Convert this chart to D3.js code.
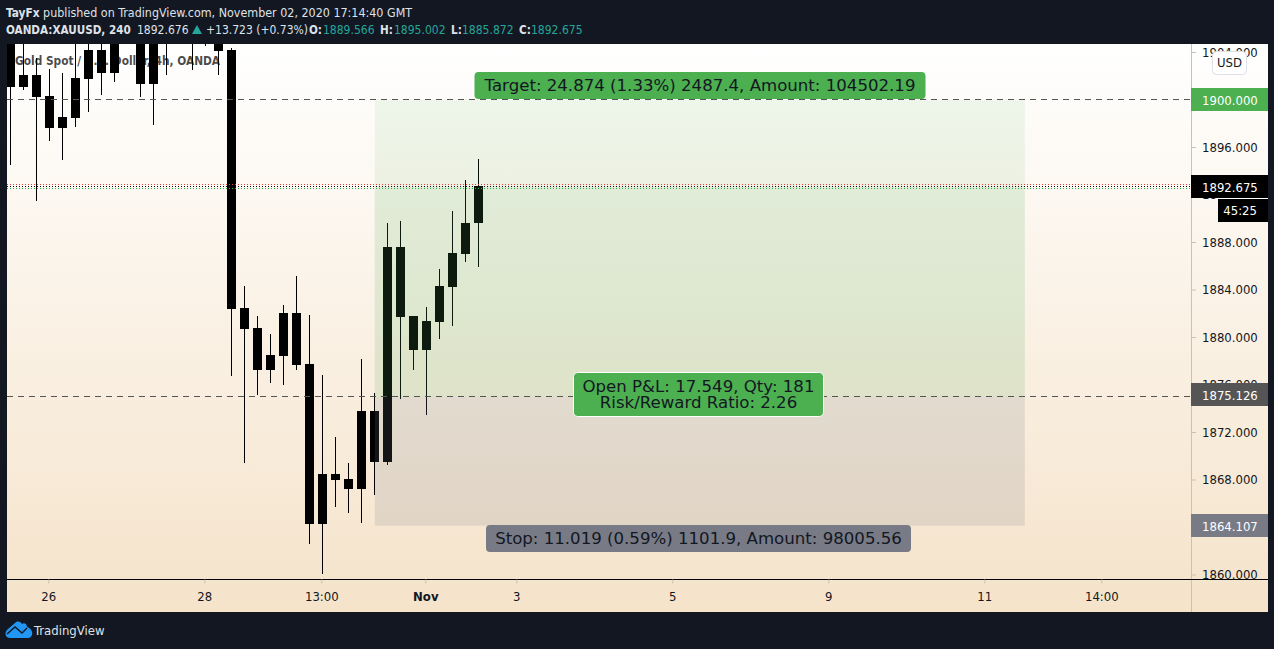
<!DOCTYPE html>
<html>
<head>
<meta charset="utf-8">
<script src="https://cdn.jsdelivr.net/npm/d3@7.9.0/dist/d3.min.js"></script>
<style>
  html, body { margin: 0; padding: 0; background: #131722; overflow: hidden; }
  svg { display: block; font-family: "DejaVu Sans Condensed", "DejaVu Sans", sans-serif; font-stretch: condensed; }
</style>
</head>
<body>
<svg id="chart" width="1274" height="649"></svg>
<script>
// Candle values. Bars above the pane top are estimates.
const opens = [1906, 1902.06, 1902.06, 1900.29, 1898.53, 1901.81, 1904.17, 1904.17, 1906, 1910, 1906, 1906, 1908, 1909, 1908, 1908, 1906, 1904.17, 1882.44, 1880.76, 1878.48, 1878.40, 1882.02, 1877.73, 1868.46, 1868.46, 1868.04, 1867.20, 1873.77, 1869.47, 1887.58, 1881.77, 1878.91, 1881.26, 1884.21, 1886.99, 1889.566];
const closes = [1901.05, 1901.05, 1900.21, 1897.60, 1897.60, 1898.44, 1901.73, 1902.23, 1902.23, 1908, 1901.31, 1901.31, 1906, 1907, 1906, 1906, 1904.08, 1882.36, 1880.67, 1877.22, 1877.22, 1882.02, 1877.64, 1864.25, 1864.25, 1867.96, 1867.20, 1873.77, 1869.47, 1887.58, 1881.68, 1878.91, 1881.35, 1884.30, 1887.07, 1889.60, 1892.675];
const highs = [1908, 1907, 1903.49, 1902.57, 1902.23, 1907, 1907, 1908, 1908, 1911, 1908, 1908, 1909, 1910, 1909, 1909, 1908, 1904.34, 1884.30, 1881.77, 1880.25, 1882.70, 1885.14, 1881.85, 1876.80, 1871.58, 1869.39, 1878.15, 1875.28, 1889.60, 1889.77, 1881.77, 1882.53, 1885.73, 1890.61, 1893.22, 1895.002];
const lows = [1894.48, 1900.80, 1891.45, 1896.51, 1894.91, 1897.68, 1898.95, 1900.38, 1901.47, 1906, 1900.21, 1897.85, 1902.06, 1906, 1902.48, 1904.51, 1902.06, 1876.72, 1869.39, 1875.12, 1876.13, 1875.96, 1877.22, 1862.57, 1860.04, 1865.68, 1865.18, 1864.34, 1866.70, 1869.22, 1874.78, 1877.22, 1873.43, 1879.83, 1880.93, 1886.32, 1885.872];

const priceTicks = [1860, 1864, 1868, 1872, 1876, 1880, 1884, 1888, 1892, 1896, 1900, 1904];
const timeTickBars = [3, 15, 24, 32, 39, 51, 63, 75, 84];
const timeTickLabels = ['26', '28', '13:00', 'Nov', '3', '5', '9', '11', '14:00'];

// Long position tool
const targetPrice = 1900;
const entryPrice = 1875.126;
const entryLinePrice = 1874.97; // line sits 2px under its tag in the picture
const stopPrice = 1864.107;
const lastPrice = 1892.675;
const toolStartBar = 28;
const toolEndBar = 78;

const width = 1274, height = 649;
const paneLeft = 7, paneRight = 1191, frameRight = 1268, paneTop = 44, paneBottom = 579, frameBottom = 612;

const x = d3.scaleLinear().domain([0, 90]).range([10.3, 1180.3]);
const y = d3.scaleLinear().domain([1860, 1900]).range([574.5, 99.5]);

const svg = d3.select('#chart');
const defs = svg.append('defs');

const grad = defs.append('linearGradient').attr('id', 'bg')
  .attr('x1', 0).attr('y1', 0).attr('x2', 0).attr('y2', 1);
grad.append('stop').attr('offset', 0).attr('stop-color', '#ffffff');
grad.append('stop').attr('offset', 1).attr('stop-color', '#f5e3ca');

defs.append('clipPath').attr('id', 'pane').append('rect')
  .attr('x', paneLeft).attr('y', paneTop)
  .attr('width', paneRight - paneLeft).attr('height', paneBottom - paneTop);

// Frame background
svg.append('rect').attr('x', paneLeft).attr('y', paneTop)
  .attr('width', frameRight - paneLeft).attr('height', frameBottom - paneTop)
  .attr('fill', 'url(#bg)');

// Header
const header = svg.append('g').attr('fill', '#dfe2e8');
header.append('text').attr('x', 6).attr('y', 17).attr('font-size', 12.4)
  .html('<tspan font-weight="bold" font-size="11.8">TayFx</tspan> published on TradingView.com, November 02, 2020 17:14:40 GMT');

const ohlcLine = [
  { t: 'OANDA:XAUUSD, 240', px: 6, bold: true },
  { t: '1892.676', px: 137 },
  { t: '+13.723 (+0.73%)', px: 206 },
  { t: 'O:', px: 309, bold: true },
  { t: '1889.566', px: 323, teal: true },
  { t: 'H:', px: 380, bold: true },
  { t: '1895.002', px: 394, teal: true },
  { t: 'L:', px: 451, bold: true },
  { t: '1885.872', px: 462, teal: true },
  { t: 'C:', px: 519, bold: true },
  { t: '1892.675', px: 531, teal: true },
];
header.selectAll('text.ohlc').data(ohlcLine).enter().append('text')
  .attr('class', 'ohlc')
  .attr('x', d => d.px).attr('y', 34)
  .attr('font-size', d => d.bold ? 11.6 : 12)
  .attr('font-weight', d => d.bold ? 'bold' : 'normal')
  .attr('fill', d => d.teal ? '#26a69a' : '#dfe2e8')
  .text(d => d.t);
svg.append('path').attr('d', 'M192,34 L197,25 L202,34 Z').attr('fill', '#26a69a');

// Pane content
const pane = svg.append('g').attr('clip-path', 'url(#pane)');

pane.append('text').attr('x', 15).attr('y', 65)
  .attr('font-size', 11.8).attr('font-weight', 'bold').attr('fill', '#2a2a2a')
  .attr('fill-opacity', 0.85)
  .text('Gold Spot / U.S. Dollar, 4h, OANDA');

const bars = d3.range(opens.length);
const candles = pane.append('g').attr('shape-rendering', 'crispEdges');
candles.selectAll('rect.wick').data(bars).enter().append('rect')
  .attr('class', 'wick')
  .attr('x', i => Math.round(x(i)))
  .attr('y', i => y(highs[i]))
  .attr('width', 1)
  .attr('height', i => y(lows[i]) - y(highs[i]))
  .attr('fill', '#000');
candles.selectAll('rect.body').data(bars).enter().append('rect')
  .attr('class', 'body')
  .attr('x', i => Math.round(x(i)) - 4)
  .attr('y', i => y(Math.max(opens[i], closes[i])))
  .attr('width', 9)
  .attr('height', i => Math.abs(y(opens[i]) - y(closes[i])))
  .attr('fill', '#000');

// Position zones sit over the candles
const zones = [
  { from: targetPrice, to: lastPrice, fill: 'rgba(76,175,80,0.09)' },
  { from: lastPrice, to: entryLinePrice, fill: 'rgba(76,175,80,0.155)' },
  { from: entryLinePrice, to: stopPrice, fill: 'rgba(120,123,134,0.17)' },
];
pane.selectAll('rect.zone').data(zones).enter().append('rect')
  .attr('class', 'zone')
  .attr('x', x(toolStartBar) + 0.5)
  .attr('width', x(toolEndBar) - x(toolStartBar))
  .attr('y', d => y(d.from))
  .attr('height', d => y(d.to) - y(d.from))
  .attr('fill', d => d.fill);

// Dashed target / entry lines
pane.selectAll('line.level').data([targetPrice, entryLinePrice]).enter().append('line')
  .attr('class', 'level')
  .attr('x1', paneLeft).attr('x2', paneRight)
  .attr('y1', d => Math.floor(y(d)) + 0.5).attr('y2', d => Math.floor(y(d)) + 0.5)
  .attr('stroke', '#555').attr('stroke-dasharray', '6,5');

// Dotted last price lines
pane.selectAll('line.last').data([{ dy: -2, c: '#ef3b3b' }, { dy: 0, c: '#111' }, { dy: 2, c: '#2fb344' }]).enter().append('line')
  .attr('class', 'last')
  .attr('x1', paneLeft).attr('x2', paneRight)
  .attr('y1', d => Math.round(y(lastPrice)) + 0.5 + d.dy)
  .attr('y2', d => Math.round(y(lastPrice)) + 0.5 + d.dy)
  .attr('stroke', d => d.c).attr('stroke-dasharray', '1,2');

// Tool labels
function toolLabel(cx, top, w, h, fill, lines, stroke) {
  const g = svg.append('g');
  g.append('rect').attr('x', cx - w / 2).attr('y', top).attr('width', w).attr('height', h)
    .attr('rx', 4).attr('fill', fill)
    .attr('stroke', stroke || 'none');
  lines.forEach(l => {
    g.append('text').attr('x', cx).attr('y', l.y).attr('text-anchor', 'middle')
      .attr('font-family', '"DejaVu Sans", sans-serif').style('font-stretch', 'normal')
      .attr('font-size', 16.6).attr('fill', '#131722').text(l.t);
  });
}
toolLabel(700, 72, 451, 27, '#4caf50', [{ t: 'Target: 24.874 (1.33%) 2487.4, Amount: 104502.19', y: 91 }]);
toolLabel(698.5, 372.5, 250, 44, '#4caf50', [
  { t: 'Open P&L: 17.549, Qty: 181', y: 392 },
  { t: 'Risk/Reward Ratio: 2.26', y: 408 },
], '#ffffff');
toolLabel(698.5, 525, 425, 27, '#787b86', [{ t: 'Stop: 11.019 (0.59%) 1101.9, Amount: 98005.56', y: 544 }]);

// Price axis
const priceAxis = d3.axisRight(y).tickValues(priceTicks).tickFormat(d3.format('.3f')).tickSize(5).tickPadding(6);
const gPrice = svg.append('g').attr('transform', `translate(${paneRight},0)`).call(priceAxis);
gPrice.attr('font-family', null);
gPrice.select('.domain').remove();
gPrice.selectAll('line').attr('stroke', '#c9c1b3');
gPrice.selectAll('text').attr('font-size', 13).attr('fill', '#131722');

svg.append('line').attr('x1', paneRight + 0.5).attr('x2', paneRight + 0.5)
  .attr('y1', paneTop).attr('y2', frameBottom).attr('stroke', '#c9c1b3');
svg.append('line').attr('x1', paneLeft).attr('x2', frameRight)
  .attr('y1', paneBottom + 0.5).attr('y2', paneBottom + 0.5).attr('stroke', '#000');

// Time axis
const timeAxis = d3.axisBottom(x).tickValues(timeTickBars)
  .tickFormat((d, i) => timeTickLabels[i]).tickSize(4).tickPadding(8);
const gTime = svg.append('g').attr('transform', `translate(-1,${paneBottom + 0.5})`).call(timeAxis);
gTime.attr('font-family', null);
gTime.select('.domain').remove();
gTime.selectAll('line').attr('stroke', '#c9c1b3');
gTime.selectAll('text').attr('font-size', 13)
  .attr('fill', '#131722').attr('font-weight', (d, i) => timeTickLabels[i] === 'Nov' ? 'bold' : 'normal');

// Price tags
function priceTag(price, top, fill, color) {
  svg.append('rect').attr('x', paneRight).attr('y', top)
    .attr('width', frameRight - paneRight).attr('height', 23).attr('fill', fill);
  svg.append('text').attr('x', paneRight + 11).attr('y', top + 16.5)
    .attr('font-size', 13).attr('fill', color).text(d3.format('.3f')(price));
}
priceTag(targetPrice, 88, '#4caf50', '#ffffff');
priceTag(entryPrice, 383, '#555555', '#ffffff');
priceTag(stopPrice, 514, '#787b86', '#ffffff');
priceTag(lastPrice, 175, '#000000', '#ffffff');

// Countdown under the last price
svg.append('rect').attr('x', 1218).attr('y', 198).attr('width', frameRight - 1218).attr('height', 24).attr('fill', '#000');
svg.append('line').attr('x1', 1218).attr('x2', frameRight).attr('y1', 198.5).attr('y2', 198.5).attr('stroke', '#fff');
svg.append('text').attr('x', 1257).attr('y', 215).attr('text-anchor', 'end')
  .attr('font-size', 13).attr('fill', '#fff').text('45:25');

// USD button
svg.append('rect').attr('x', 1212.5).attr('y', 51.5).attr('width', 34).attr('height', 23).attr('rx', 4)
  .attr('fill', '#fff').attr('stroke', '#dfe1e6');
svg.append('text').attr('x', 1229.5).attr('y', 66.5).attr('text-anchor', 'middle')
  .attr('font-size', 13).attr('fill', '#131722').text('USD');

// TradingView logo
svg.append('path')
  .attr('d', 'M10,638 C5,638 4,632 8,629 L15,623 C17,621 20,621 22,624 C24,622 27,624 27,627 C31,628 33,632 32,635 C31,637 30,638 28,638 Z')
  .attr('fill', '#2196f3');
svg.append('path').attr('d', 'M7,634 L15,627 L22,633 L27,628')
  .attr('fill', 'none').attr('stroke', '#131722').attr('stroke-width', 1.4);
svg.append('text').attr('x', 34).attr('y', 635).attr('font-size', 13).attr('fill', '#dfe2e8').text('TradingView');
</script>
</body>
</html>
